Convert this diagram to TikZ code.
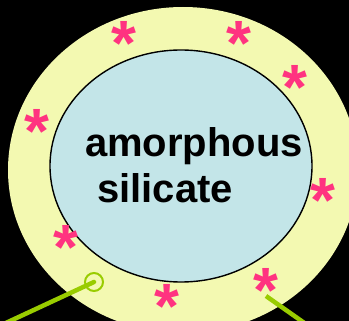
\documentclass[tikz,border=0pt]{standalone}
\usepackage{fontspec}
\setmainfont{Liberation Sans}
\usepackage{tikz}
\usetikzlibrary{shapes.geometric}
\usepackage{xcolor}
\definecolor{sgYellow}{HTML}{F3F9B1}
\definecolor{sgIce}{HTML}{C3E5E8}
\definecolor{sgPink}{HTML}{FF3380}
\definecolor{sgLime}{HTML}{99CC00}
\tikzset{
    shell/.style={
        ellipse,fill=sgYellow,inner sep=0pt
    },
    core/.style={
        ellipse,draw=black,line width=1.4pt,fill=sgIce,inner sep=0pt
    },
    spark/.style={
        font=\fontsize{64}{64}\selectfont\bfseries,text=sgPink,
        inner sep=0pt,text height=54pt,text depth=-32pt
    },
    lead/.style={
        draw=sgLime,line width=4.5pt
    }
}

\begin{document}
\begin{tikzpicture}[x=1pt,y=-1pt]

\useasboundingbox (0,0) rectangle (349,321);
\fill[black] (0,0) rectangle (349,321);
\clip (0,0) rectangle (349,321);

\node[shell,minimum width=350pt,minimum height=326pt](grain) at (183,170) {};
\node[core,minimum width=262pt,minimum height=232pt](core) at (181,166) {};

\node[
anchor=base west,align=left,inner sep=0pt,
font=\fontsize{40}{47}\selectfont\bfseries
](name) at (85,203)
{amorphous\\
\hspace*{12pt}silicate};

\node[spark](s1) at (124,39) {*};
\node[spark](s2) at (239,39) {*};
\node[spark](s3) at (295,83) {*};
\node[spark](s4) at (37,127) {*};
\node[spark](s5) at (323,196) {*};
\node[spark](s6) at (66,243) {*};
\node[spark](s7) at (167,302) {*};

\coordinate (endR) at (330,341);
\draw[lead](266,296)--(endR);
\node[spark](s8) at (266,286) {*};

\node[
circle,draw=sgLime,line width=2pt,minimum size=18pt,inner sep=0pt
](ring) at (94,282) {};
\coordinate (endL) at (-20,335);
\draw[lead,line cap=round](ring.center)--(endL);

\end{tikzpicture}
\end{document}
